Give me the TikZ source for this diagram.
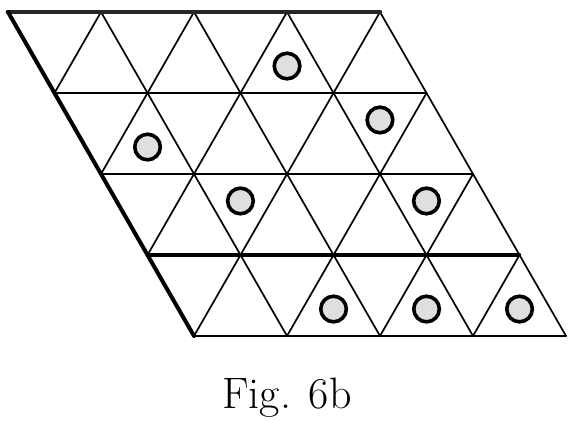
\documentclass[tikz,border=0pt]{standalone}
\usepackage{tikz}

\begin{document}
\begin{tikzpicture}[x={(46.5pt,0pt)}, y={(23.25pt,-40.5pt)},
    grid/.style={line width=0.85pt},
    site/.style={line width=1.8pt, fill=gray!25},
    line cap=round, line join=round]
                \useasboundingbox (-4pt,6pt) rectangle (281.5pt,-204.5pt);

                % Horizontal rows
                \foreach \j in {1,2,4}
                    \draw[grid] (0,\j) -- (4,\j);
                \draw[line width=1.7pt] (0,3) -- (4,3);

                % Lines parallel to the left edge
                \foreach \i in {1,...,4}
                    \draw[grid] (\i,0) -- (\i,4);

                % Lines the other way
                \foreach \s in {1,...,4}
                    \draw[grid] (\s,0) -- (0,\s);
                \foreach \s in {1,2,3}
                    \draw[grid] (4,\s) -- (\s,4);

                % Thick edges
                \draw[line width=2.3pt, black!85] (0,0) -- (4,0);
                \draw[line width=2pt] (0,0) -- (0,4);

                % Occupied sites
                \foreach \p/\q in {2.667/0.667, 0.667/1.667, 3.333/1.333,
                                   1.333/2.333, 3.333/2.333,
                                   1.667/3.667, 2.667/3.667, 3.667/3.667}
                    \draw[site] (\p,\q) circle (6.4pt);

                % Caption
                \node[anchor=base, font=\fontsize{22}{26}\selectfont] (cap) at (139.5pt,-198pt) {Fig. 6b};
\end{tikzpicture}
\end{document}
